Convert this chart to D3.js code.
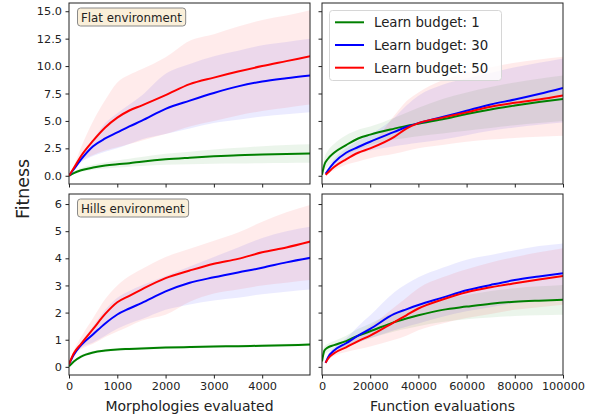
<!DOCTYPE html>
<html>
<head>
<meta charset="utf-8">
<script src="https://cdn.jsdelivr.net/npm/d3@7"></script>
<style>
body { margin: 0; background: white; }
text { font-family: "DejaVu Sans", sans-serif; fill: #222; }
</style>
</head>
<body>
<script>
// x sample points
const morphX = [0, 100, 250, 500, 750, 1000, 1250, 1500, 2000, 2500, 3000, 3500, 4000, 4500, 5000]
const fnX1 = [0, 1000, 2500, 5000, 10000, 15000, 20000, 30000, 35000, 40000, 50000, 60000, 70000, 80000, 90000, 100000]
const fnXLate = [1500, 2500, 5000, 10000, 15000, 20000, 30000, 35000, 40000, 50000, 60000, 70000, 80000, 90000, 100000]

const budgets = ["Learn budget: 1", "Learn budget: 30", "Learn budget: 50"]
const envNames = ["Flat environment", "Hills environment"]

// Flat, morphologies evaluated
const flatMorph1 = [0, 0.25, 0.5, 0.75, 0.93, 1.05, 1.15, 1.28, 1.5, 1.65, 1.78, 1.88, 1.93, 1.98, 2.03]
const flatMorph1Lo = [0, 0.15, 0.35, 0.55, 0.67, 0.75, 0.83, 0.9, 1.0, 1.05, 1.1, 1.12, 1.15, 1.17, 1.18]
const flatMorph1Hi = [0, 0.35, 0.7, 1.0, 1.2, 1.4, 1.55, 1.7, 2.0, 2.2, 2.4, 2.55, 2.7, 2.8, 2.87]
const flatMorph30 = [0, 0.6, 1.5, 2.7, 3.4, 3.95, 4.5, 5.0, 6.1, 6.85, 7.55, 8.15, 8.6, 8.9, 9.15]
const flatMorph30Lo = [0, 0.5, 1.2, 1.8, 2.2, 2.5, 2.9, 3.3, 3.8, 4.3, 4.8, 5.1, 5.4, 5.6, 5.8]
const flatMorph30Hi = [0, 0.7, 1.8, 3.3, 4.8, 5.7, 6.5, 7.3, 9.3, 10.2, 10.9, 11.4, 11.9, 12.2, 12.5]
const flatMorph50 = [0, 0.7, 1.8, 3.2, 4.4, 5.3, 5.95, 6.4, 7.35, 8.35, 8.95, 9.5, 10.0, 10.45, 10.9]
const flatMorph50Lo = [0, 0.55, 1.3, 1.9, 2.3, 2.6, 2.9, 3.2, 3.8, 4.5, 5.0, 5.5, 5.9, 6.2, 6.5]
const flatMorph50Hi = [0, 0.9, 2.6, 5.0, 6.9, 8.5, 9.2, 9.7, 10.8, 12.3, 12.9, 13.6, 14.2, 14.6, 15.1]

// Hills, morphologies evaluated
const hillsMorph1 = [0.02, 0.2, 0.38, 0.53, 0.6, 0.64, 0.66, 0.68, 0.71, 0.73, 0.75, 0.76, 0.78, 0.8, 0.82]
const hillsMorph1Lo = [0, 0.16, 0.33, 0.48, 0.55, 0.59, 0.61, 0.63, 0.66, 0.68, 0.7, 0.71, 0.73, 0.75, 0.77]
const hillsMorph1Hi = [0.04, 0.24, 0.43, 0.58, 0.65, 0.69, 0.71, 0.73, 0.76, 0.78, 0.8, 0.81, 0.83, 0.85, 0.87]
const hillsMorph30 = [0.1, 0.45, 0.8, 1.2, 1.6, 1.93, 2.15, 2.35, 2.78, 3.1, 3.3, 3.48, 3.65, 3.85, 4.02]
const hillsMorph30Lo = [0.1, 0.4, 0.7, 0.9, 1.15, 1.4, 1.6, 1.75, 2.1, 2.3, 2.45, 2.55, 2.68, 2.77, 2.85]
const hillsMorph30Hi = [0.1, 0.5, 0.9, 1.5, 2.1, 2.55, 2.8, 3.0, 3.35, 3.7, 4.05, 4.4, 4.75, 5.0, 5.17]
const hillsMorph50 = [0.1, 0.5, 0.85, 1.4, 1.95, 2.38, 2.62, 2.85, 3.27, 3.55, 3.8, 3.98, 4.22, 4.4, 4.62]
const hillsMorph50Lo = [0.1, 0.45, 0.65, 0.85, 1.1, 1.3, 1.5, 1.7, 1.92, 2.4, 2.7, 2.85, 3.0, 3.1, 3.2]
const hillsMorph50Hi = [0.1, 0.6, 1.1, 1.8, 2.5, 3.0, 3.35, 3.6, 4.05, 4.35, 4.65, 4.95, 5.35, 5.7, 5.97]

// Flat, function evaluations
const flatFn1 = [0.1, 1.0, 1.55, 2.1, 2.8, 3.4, 3.75, 4.3, 4.55, 4.75, 5.15, 5.63, 6.05, 6.4, 6.72, 7.0]
const flatFn1Lo = [0.05, 0.5, 0.9, 1.3, 1.9, 2.4, 2.8, 3.3, 3.45, 3.6, 3.85, 4.1, 4.35, 4.6, 4.8, 5.0]
const flatFn1Hi = [0.2, 1.6, 2.3, 2.9, 3.7, 4.2, 4.5, 5.3, 5.75, 6.2, 7.0, 7.6, 8.1, 8.5, 8.85, 9.15]
const flatFn30 = [0.18, 0.5, 1.2, 2.1, 2.62, 3.1, 4.0, 4.45, 4.8, 5.35, 5.93, 6.5, 6.95, 7.45, 8.0]
const flatFn30Lo = [0.15, 0.4, 0.8, 1.6, 2.0, 2.3, 2.7, 2.85, 3.0, 3.3, 3.7, 4.1, 4.4, 4.65, 4.86]
const flatFn30Hi = [0.2, 0.7, 1.5, 2.5, 3.2, 3.8, 5.3, 6.4, 7.3, 8.3, 8.9, 9.4, 9.9, 10.3, 10.7]
const flatFn50 = [0.09, 0.3, 0.8, 1.5, 2.1, 2.5, 3.55, 4.3, 4.8, 5.3, 5.78, 6.3, 6.65, 6.95, 7.32]
const flatFn50Lo = [0.05, 0.2, 0.5, 1.0, 1.3, 1.6, 2.0, 2.25, 2.5, 2.8, 3.1, 3.3, 3.45, 3.55, 3.65]
const flatFn50Hi = [0.12, 0.45, 1.2, 2.2, 2.6, 2.9, 5.5, 6.8, 7.6, 8.7, 9.4, 9.9, 10.3, 10.6, 10.85]

// Hills, function evaluations
const hillsFn1 = [0.2, 0.6, 0.72, 0.8, 0.95, 1.15, 1.31, 1.65, 1.78, 1.9, 2.1, 2.22, 2.33, 2.4, 2.44, 2.47]
const hillsFn1Lo = [0.15, 0.45, 0.55, 0.6, 0.75, 0.9, 1.05, 1.3, 1.4, 1.5, 1.65, 1.75, 1.82, 1.87, 1.9, 1.92]
const hillsFn1Hi = [0.25, 0.75, 0.85, 0.95, 1.15, 1.4, 1.6, 2.0, 2.15, 2.3, 2.5, 2.65, 2.8, 2.9, 2.97, 3.02]
const hillsFn30 = [0.15, 0.35, 0.6, 0.87, 1.15, 1.4, 1.95, 2.12, 2.28, 2.55, 2.82, 3.02, 3.2, 3.33, 3.45]
const hillsFn30Lo = [0.12, 0.25, 0.45, 0.7, 0.9, 1.05, 1.35, 1.48, 1.6, 1.85, 2.05, 2.2, 2.35, 2.45, 2.5]
const hillsFn30Hi = [0.2, 0.45, 0.7, 1.05, 1.5, 1.9, 2.75, 3.05, 3.3, 3.65, 3.95, 4.12, 4.3, 4.45, 4.55]
const hillsFn50 = [0.15, 0.3, 0.5, 0.72, 0.95, 1.15, 1.65, 1.9, 2.15, 2.48, 2.75, 2.93, 3.08, 3.22, 3.35]
const hillsFn50Lo = [0.1, 0.25, 0.4, 0.55, 0.65, 0.75, 1.0, 1.15, 1.35, 1.6, 1.8, 1.95, 2.1, 2.2, 2.29]
const hillsFn50Hi = [0.2, 0.4, 0.6, 0.9, 1.2, 1.5, 2.2, 2.55, 2.9, 3.3, 3.6, 3.85, 4.05, 4.22, 4.37]

const flatTicks = [0, 2.5, 5, 7.5, 10, 12.5, 15]
const hillsTicks = [0, 1, 2, 3, 4, 5, 6]
const morphTicks = [0, 1000, 2000, 3000, 4000]
const fnTicks = [0, 20000, 40000, 60000, 80000, 100000]

const colors = ["#008000", "#0000ff", "#ff0000"]

function series(x, m, lo, hi){
    return x.map((v, i) => ({x: v, m: m[i], lo: lo[i], hi: hi[i]}))
}

class FitnessFigure{

    constructor(){
        this.width = 595
        this.height = 419
        this.cols = [[69, 310], [322, 563]]
        this.rows = [[3, 184], [194, 375]]
    }

    render(){
        const svg = d3.select("body").append("svg")
            .attr("width", this.width)
            .attr("height", this.height)

        var panels = [
            {row: 0, col: 0, xd: [0, 4990], yd: [-0.75, 15.75], yt: flatTicks, xt: morphTicks, fmt: d3.format(".1f"),
             s: [series(morphX, flatMorph1, flatMorph1Lo, flatMorph1Hi),
                 series(morphX, flatMorph30, flatMorph30Lo, flatMorph30Hi),
                 series(morphX, flatMorph50, flatMorph50Lo, flatMorph50Hi)]},
            {row: 0, col: 1, xd: [0, 100000], yd: [-0.75, 15.75], yt: flatTicks, xt: fnTicks, fmt: d3.format(".1f"),
             s: [series(fnX1, flatFn1, flatFn1Lo, flatFn1Hi),
                 series(fnXLate, flatFn30, flatFn30Lo, flatFn30Hi),
                 series(fnXLate, flatFn50, flatFn50Lo, flatFn50Hi)]},
            {row: 1, col: 0, xd: [0, 4990], yd: [-0.3, 6.37], yt: hillsTicks, xt: morphTicks, fmt: d3.format("d"),
             s: [series(morphX, hillsMorph1, hillsMorph1Lo, hillsMorph1Hi),
                 series(morphX, hillsMorph30, hillsMorph30Lo, hillsMorph30Hi),
                 series(morphX, hillsMorph50, hillsMorph50Lo, hillsMorph50Hi)]},
            {row: 1, col: 1, xd: [0, 100000], yd: [-0.3, 6.37], yt: hillsTicks, xt: fnTicks, fmt: d3.format("d"),
             s: [series(fnX1, hillsFn1, hillsFn1Lo, hillsFn1Hi),
                 series(fnXLate, hillsFn30, hillsFn30Lo, hillsFn30Hi),
                 series(fnXLate, hillsFn50, hillsFn50Lo, hillsFn50Hi)]},
        ]

        panels.forEach(p => this.drawPanel(svg, p))

        // environment labels
        envNames.forEach((name, i) => {
            var y0 = this.rows[i][0]
            var g = svg.append("g")
            var t = g.append("text").text(name)
                .attr("x", 81).attr("y", y0 + 18.5)
                .style("font-size", "11.8px")
            var bb = t.node().getBBox()
            g.insert("rect", "text")
                .attr("x", bb.x - 3.5).attr("y", y0 + 5)
                .attr("width", bb.width + 7).attr("height", 18)
                .attr("rx", 3)
                .attr("fill", "rgb(250,239,217)")
                .attr("stroke", "#8a8a8a")
                .attr("stroke-width", 1)
        })

        // legend
        const lg = svg.append("g")
        lg.append("rect")
            .attr("x", 329.5).attr("y", 10.5)
            .attr("width", 172).attr("height", 70)
            .attr("rx", 3)
            .attr("fill", "white").attr("fill-opacity", 0.8)
            .attr("stroke", "#d6d6d6")
        budgets.forEach((b, i) => {
            var y = 22.3 + i * 22.7
            lg.append("line")
                .attr("x1", 335).attr("x2", 364)
                .attr("y1", y).attr("y2", y)
                .attr("stroke", colors[i]).attr("stroke-width", 2)
            lg.append("text").text(b)
                .attr("x", 374).attr("y", y + 5)
                .style("font-size", "13.3px")
        })

        // axis labels
        svg.append("text").text("Morphologies evaluated")
            .attr("x", (this.cols[0][0] + this.cols[0][1]) / 2).attr("y", 411)
            .attr("text-anchor", "middle").style("font-size", "14px")
        svg.append("text").text("Function evaluations")
            .attr("x", (this.cols[1][0] + this.cols[1][1]) / 2).attr("y", 411)
            .attr("text-anchor", "middle").style("font-size", "14px")
        svg.append("text").text("Fitness")
            .attr("transform", "translate(29,189) rotate(-90)")
            .attr("text-anchor", "middle").style("font-size", "17.3px")
    }

    drawPanel(svg, p){
        var c = this.cols[p.col]
        var r = this.rows[p.row]
        var x = d3.scaleLinear().domain(p.xd).range(c)
        var y = d3.scaleLinear().domain(p.yd).range([r[1], r[0]])

        var g = svg.append("g")
        var clipId = "clip" + p.row + p.col
        g.append("clipPath").attr("id", clipId)
            .append("rect").attr("x", c[0]).attr("y", r[0])
            .attr("width", c[1] - c[0]).attr("height", r[1] - r[0])

        var plot = g.append("g").attr("clip-path", "url(#" + clipId + ")")

        const area = d3.area().x(d => x(d.x)).y0(d => y(d.lo)).y1(d => y(d.hi)).curve(d3.curveMonotoneX)
        const line = d3.line().x(d => x(d.x)).y(d => y(d.m)).curve(d3.curveMonotoneX)

        p.s.forEach((s, i) => {
            plot.append("path").attr("d", area(s))
                .attr("fill", colors[i]).attr("fill-opacity", 0.08)
        })
        p.s.forEach((s, i) => {
            plot.append("path").attr("d", line(s))
                .attr("fill", "none").attr("stroke", colors[i]).attr("stroke-width", 2)
        })

        // frame
        g.append("rect")
            .attr("x", c[0]).attr("y", r[0])
            .attr("width", c[1] - c[0]).attr("height", r[1] - r[0])
            .attr("fill", "none").attr("stroke", "#222").attr("stroke-width", 1)

        // axes
        var ya = d3.axisLeft(y).tickValues(p.yt).tickSize(3.5).tickPadding(3.5)
            .tickFormat(p.col == 0 ? p.fmt : "")
        var yg = g.append("g").attr("transform", "translate(" + c[0] + ",0)").call(ya)
        var xa = d3.axisBottom(x).tickValues(p.xt).tickSize(3.5).tickPadding(3.5)
            .tickFormat(p.row == 1 ? d3.format("d") : "")
        var xg = g.append("g").attr("transform", "translate(0," + r[1] + ")").call(xa)

        ;[yg, xg].forEach(a => {
            a.select(".domain").remove()
            a.selectAll(".tick line").attr("stroke", "#222")
            a.selectAll(".tick text")
                .style("font-family", "DejaVu Sans, sans-serif")
                .style("font-size", "11.3px").attr("fill", "#222")
        })
    }
}

var fig = new FitnessFigure()
fig.render()
</script>
</body>
</html>
